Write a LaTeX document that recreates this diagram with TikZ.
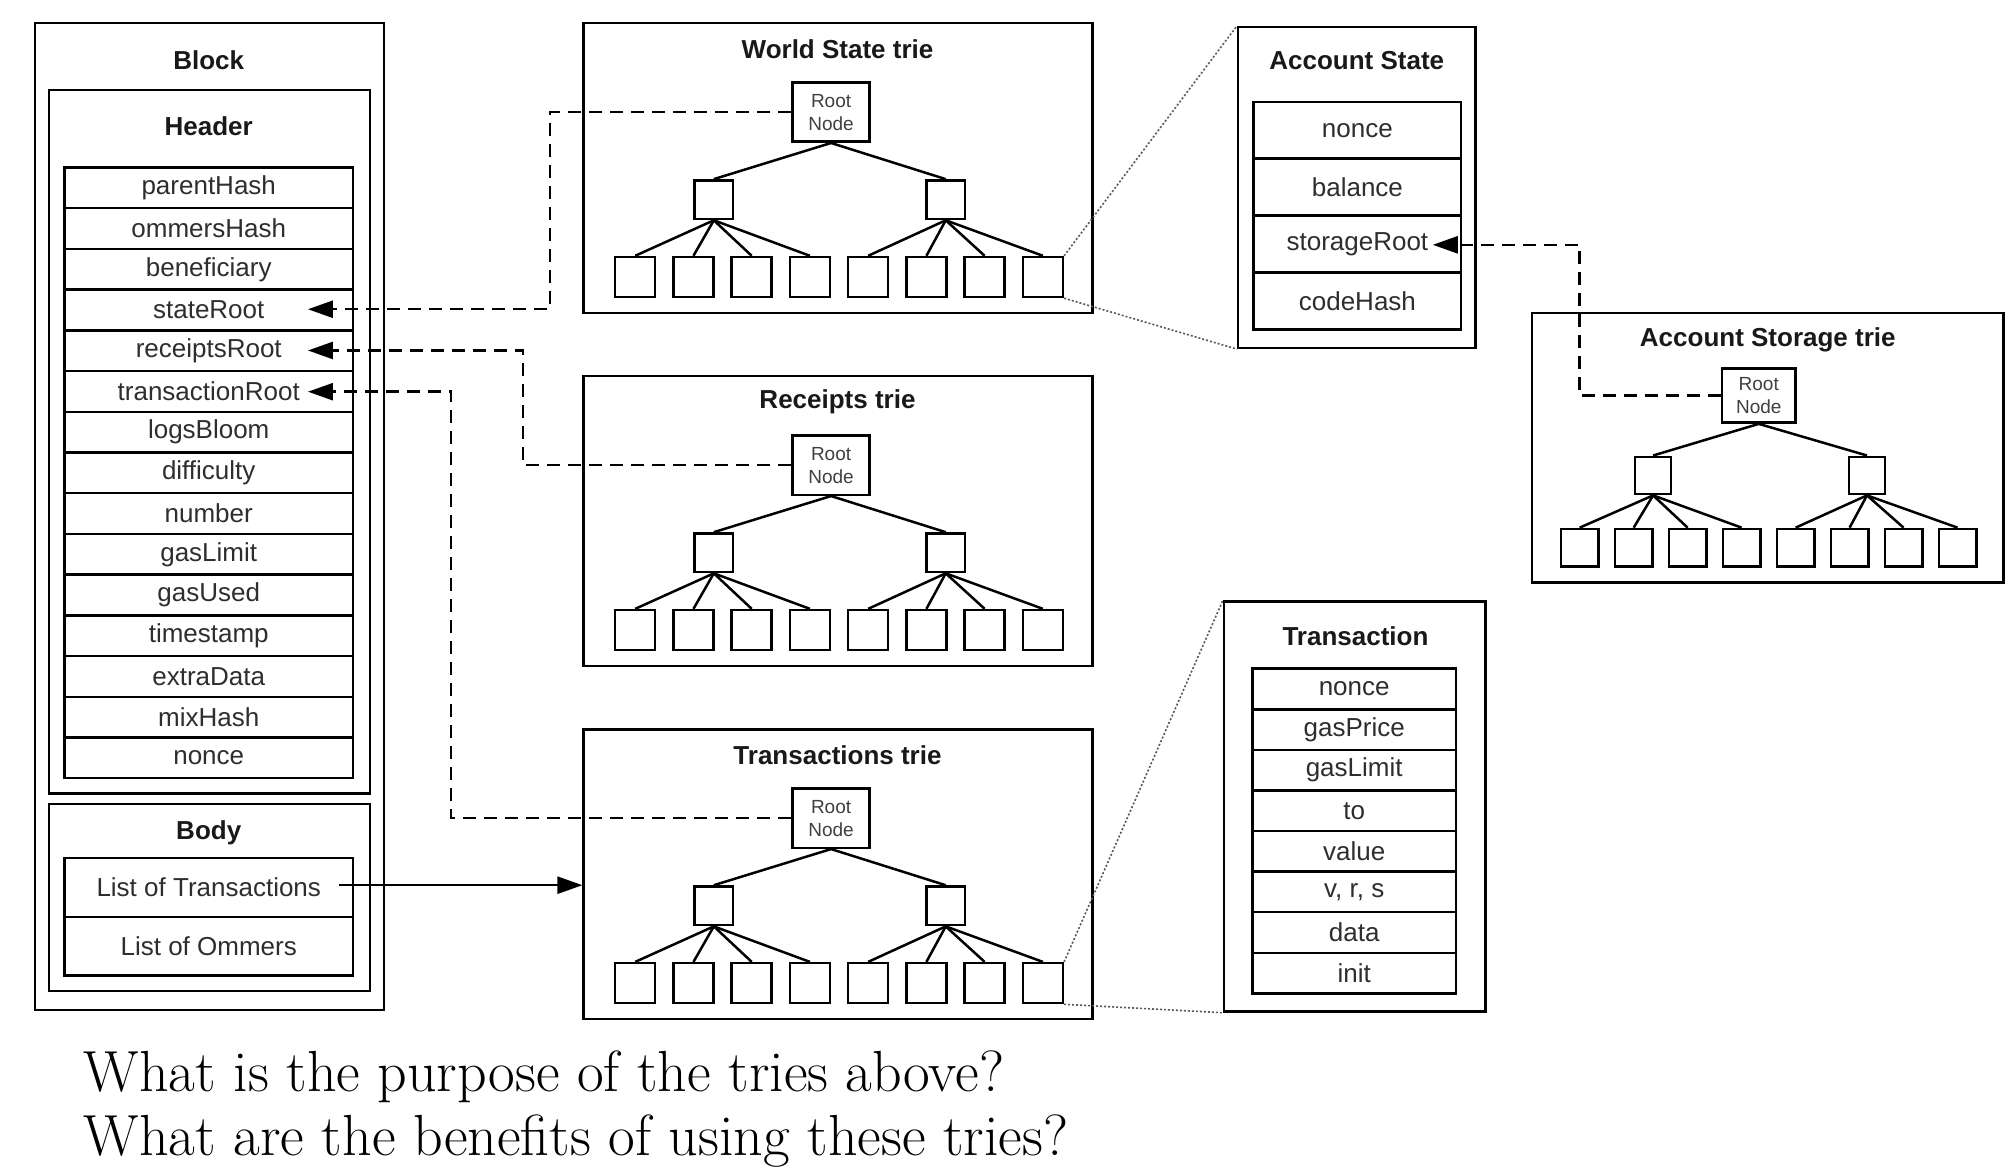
\documentclass[tikz,border=0pt]{standalone}
\usepackage{fontspec}
\setsansfont{Liberation Sans}
\usetikzlibrary{arrows.meta,fit,calc}
\def\u{1.2885pt}
\begin{document}
\begin{tikzpicture}[x=1.2885pt,y=-1.2885pt,
  box/.style={draw,line width=2.5pt,inner sep=0pt},
  fld/.style={draw,line width=2.5pt,inner sep=0pt,font=\sffamily\fontsize{26}{30}\selectfont,text=black!82},
  ttl/.style={font=\sffamily\bfseries\fontsize{26}{30}\selectfont,text=black!90},
  rootn/.style={draw,line width=2.5pt,inner sep=0pt,align=center,font=\sffamily\fontsize{19}{23}\selectfont,text=black!75},
  tn/.style={draw,line width=2.5pt,inner sep=0pt},
  tedge/.style={line width=2.5pt},
  dconn/.style={line width=2.5pt,dash pattern=on 13pt off 8pt,-{Triangle[length=25pt,width=17pt]}},
  sconn/.style={line width=2.5pt,-{Triangle[length=25pt,width=17pt]}},
  zoomline/.style={line width=1.6pt,dash pattern=on 2pt off 2pt,black!65},
  qtext/.style={font=\fontsize{58}{68}\selectfont,inner sep=0pt,anchor=base west}]
\fill[white] (0,0) rectangle (1560,908);
\useasboundingbox (0,0) rectangle (1560,908);

% ---------- Block ----------
\node[box,fit={(27,18) (298,784)}] (block) {};
\node[ttl] (blocktitle) at (162,47) {Block};
\node[box,fit={(38,70) (287,616)}] (header) {};
\node[ttl] (headertitle) at (162,98) {Header};
\foreach \n [count=\i from 0] in {parentHash,ommersHash,beneficiary,stateRoot,receiptsRoot,transactionRoot,logsBloom,difficulty,number,gasLimit,gasUsed,timestamp,extraData,mixHash,nonce}
  \node[fld,minimum width=224*\u,minimum height=31.6*\u] (h-\n) at (162,145.8+31.6*\i) {\n};
\node[box,fit={(38,624) (287,769)}] (body) {};
\node[ttl] (bodytitle) at (162,646) {Body};
\node[fld,minimum width=224*\u,minimum height=45.5*\u] (lot) at (162,688.75) {List of Transactions};
\node[fld,minimum width=224*\u,minimum height=45.5*\u] (loo) at (162,734.25) {List of Ommers};

% ---------- tries ----------
\newcommand{\mytrie}[3]{%
  \node[box,fit={(453,18+#2) (848,243+#2)}] (#1) {};
  \node[ttl] (#1-title) at (650,38+#2) {#3};
  \node[rootn,minimum width=60*\u,minimum height=46*\u] (#1-root) at (645,87+#2) {Root\\Node};
  \node[tn,minimum size=30*\u] (#1-m1) at (554,155+#2) {};
  \node[tn,minimum size=30*\u] (#1-m2) at (734,155+#2) {};
  \foreach \k in {1,...,8}
    \node[tn,minimum size=31*\u] (#1-l\k) at (493+45.2*\k-45.2,215+#2) {};
  \draw[tedge] (#1-root.south) -- (#1-m1.north);
  \draw[tedge] (#1-root.south) -- (#1-m2.north);
  \foreach \k in {1,...,4} \draw[tedge] (#1-m1.south) -- (#1-l\k.north);
  \foreach \k in {5,...,8} \draw[tedge] (#1-m2.south) -- (#1-l\k.north);
}
\mytrie{ws}{0}{World State trie}
\mytrie{rc}{274}{Receipts trie}
\mytrie{tx}{548}{Transactions trie}

% ---------- Account State ----------
\node[box,fit={(961,21) (1145,270)}] (acct) {};
\node[ttl] (accttitle) at (1053,47) {Account State};
\foreach \n [count=\i from 0] in {nonce,balance,storageRoot,codeHash}
  \node[fld,minimum width=161*\u,minimum height=44.2*\u] (a-\n) at (1053.5,101.1+44.2*\i) {\n};

% ---------- Account Storage trie ----------
\node[box,fit={(1189,243) (1555,452)}] (st) {};
\node[ttl] (sttitle) at (1372,264) {Account Storage trie};
\node[rootn,minimum width=57*\u,minimum height=42*\u] (st-root) at (1365,307) {Root\\Node};
\node[tn,minimum width=28*\u,minimum height=29*\u] (st-m1) at (1283,369) {};
\node[tn,minimum width=28*\u,minimum height=29*\u] (st-m2) at (1449,369) {};
\foreach \k in {1,...,8}
  \node[tn,minimum size=29*\u] (st-l\k) at (1226+41.9*\k-41.9,425) {};
\draw[tedge] (st-root.south) -- (st-m1.north);
\draw[tedge] (st-root.south) -- (st-m2.north);
\foreach \k in {1,...,4} \draw[tedge] (st-m1.south) -- (st-l\k.north);
\foreach \k in {5,...,8} \draw[tedge] (st-m2.south) -- (st-l\k.north);

% ---------- Transaction ----------
\node[box,fit={(950,467) (1153,785)}] (txn) {};
\node[ttl] (txntitle) at (1052,494) {Transaction};
\foreach \n/\lab [count=\i from 0] in {nonce/nonce,gasPrice/gasPrice,gasLimit/gasLimit,to/to,value/value,vrs/{v, r, s},data/data,init/init}
  \node[fld,minimum width=158*\u,minimum height=31.5*\u] (t-\n) at (1051,534.75+31.5*\i) {\lab};

% ---------- zoom lines ----------
\draw[zoomline] (ws-l8.north east) -- (acct.north west);
\draw[zoomline] (ws-l8.south east) -- (acct.south west);
\draw[zoomline] (tx-l8.north east) -- (txn.north west);
\draw[zoomline] (tx-l8.south east) -- (txn.south west);

% ---------- connectors ----------
\coordinate (srtip) at (239,240);
\coordinate (rrtip) at (239,272);
\coordinate (trtip) at (239,304);
\coordinate (sttip) at (1112,190);
\coordinate (wsbend) at (427,240);
\coordinate (rcbend) at (406,272);
\coordinate (txbend) at (350,304);
\coordinate (stbend) at (1226,190);
\draw[dconn] (ws-root.west) -| (wsbend) -- (srtip);
\draw[dconn] (rc-root.west) -| (rcbend) -- (rrtip);
\draw[dconn] (tx-root.west) -| (txbend) -- (trtip);
\draw[dconn] (st-root.west) -| (stbend) -- (sttip);
\coordinate (lotstart) at (263,687);
\draw[sconn] (lotstart) -- (lotstart -| tx.west);

% ---------- questions ----------
\node[qtext] (q1) at (65,847) {What is the purpose of the tries above?};
\node[qtext] (q2) at (65,897) {What are the benefits of using these tries?};
\end{tikzpicture}
\end{document}
